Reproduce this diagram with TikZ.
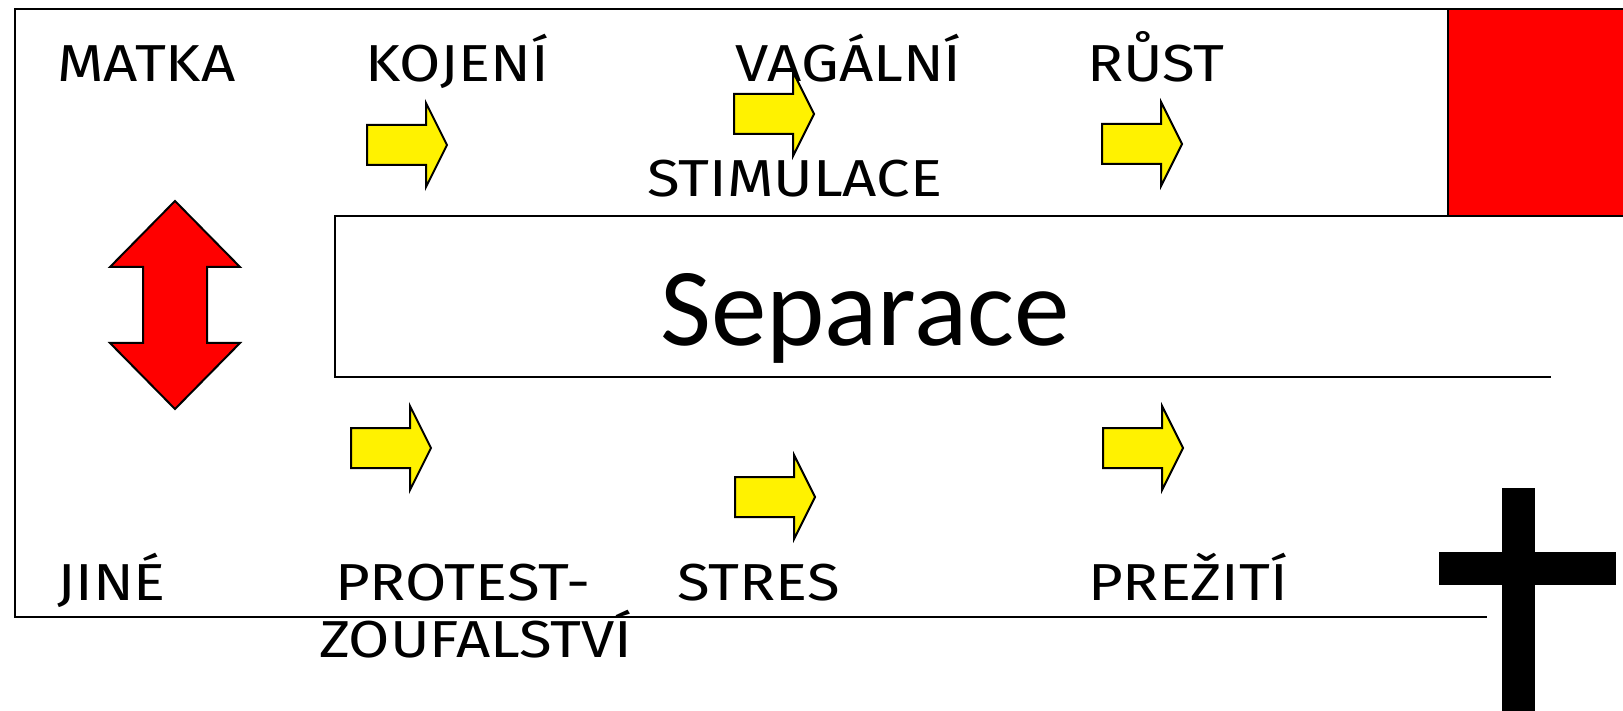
\documentclass[tikz,border=0pt]{standalone}
\usepackage{fontspec}
\setmainfont{Fira Sans}
\newfontfamily\lblfont[FakeStretch=1.15]{Fira Sans}
\newfontfamily\sepfont{Carlito}
\begin{document}
\begin{tikzpicture}[x=1pt,y=-1pt,
  lbl/.style={anchor=base west,inner sep=0pt,font=\lblfont\fontsize{52}{56}\selectfont},
  sep/.style={anchor=base west,inner sep=0pt,font=\sepfont\fontsize{111}{115}\selectfont},
  frameline/.style={line width=2pt},
  yarrow/.style={fill=yellow,draw=black,line width=2pt,line join=miter},
  rarrow/.style={fill=red,draw=black,line width=2pt,line join=miter},
  crossbar/.style={fill=black,draw=none},
  redbox/.style={fill=red,draw=black,line width=2pt},
  rgt/.pic={\path[yarrow] (0,-20)--(59,-20)--(59,-42)--(80,0)--(59,42)--(59,20)--(0,20)--cycle;}
]
\useasboundingbox (0,0) rectangle (1623,711);
% red box top right
\path[redbox] (1448,9) rectangle (1630,216);
% outer frame
\draw[frameline] (1623,9) -- (15,9) -- (15,617) -- (1487,617);
% separace box
\draw[frameline] (1623,216) -- (335,216) -- (335,377) -- (1551,377);
\node[sep] (separace) at (660,345) {Separace};
% labels
\node[lbl] (matka) at (57,82) {MATKA};
\node[lbl] (kojeni) at (365,82) {KOJENÍ};
\node[lbl] (vagalni) at (735,82) {VAGÁLNÍ};
\node[lbl] (rust) at (1087,82) {RŮST};
\node[lbl] (stimulace) at (647,197) {STIMULACE};
\node[lbl] (jine) at (57,600) {JINÉ};
\node[lbl] (protest) at (335,600) {PROTEST-};
\node[lbl] (zoufal) at (319,657) {ZOUFALSTVÍ};
\node[lbl] (stres) at (677,600) {STRES};
\node[lbl] (preziti) at (1088,600) {PREŽITÍ};
% yellow arrows
\pic at (367,145) {rgt};
\pic at (734,114) {rgt};
\pic at (1102,144) {rgt};
\pic at (351,448) {rgt};
\pic at (735,497) {rgt};
\pic at (1103,448) {rgt};
% red double arrow
\path[rarrow] (175,201) -- (240,267) -- (207,267) -- (207,343) -- (240,343) -- (175,409)
  -- (110,343) -- (143,343) -- (143,267) -- (110,267) -- cycle;
% cross
\path[crossbar] (1502,488) rectangle (1535,711);
\path[crossbar] (1439,552) rectangle (1616,585);
\end{tikzpicture}
\end{document}
